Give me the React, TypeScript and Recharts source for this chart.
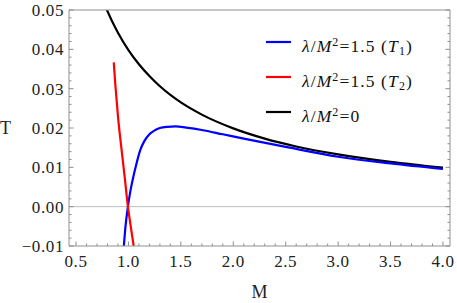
import React from "react";
import { LineChart, Line, XAxis, YAxis, ReferenceLine } from "recharts";

const FRAME = "#8f8f8f";
const ZERO = "#bdbdbd";
const FONT = '"Liberation Serif", "Times New Roman", serif';

// axes
const X_MAJOR = [0.5, 1.0, 1.5, 2.0, 2.5, 3.0, 3.5, 4.0];
const X_LABELS = ["0.5", "1.0", "1.5", "2.0", "2.5", "3.0", "3.5", "4.0"];
const Y_MAJOR = [-0.01, 0, 0.01, 0.02, 0.03, 0.04, 0.05];
const Y_LABELS = ["\u22120.01", "0.00", "0.01", "0.02", "0.03", "0.04", "0.05"];

// λ/M² = 0
const M_ZERO = [0.79, 0.85, 0.9, 1.0, 1.1, 1.2, 1.3, 1.4, 1.5, 1.7, 2.0, 2.3, 2.6, 3.0, 3.5, 4.0];
const T_ZERO = [0.0503, 0.0468, 0.0442, 0.0398, 0.0362, 0.0332, 0.0306, 0.0284, 0.0265, 0.0234, 0.0199, 0.0173, 0.0153, 0.0133, 0.0114, 0.0099];

// λ/M² = 1.5, T1
const M_T1 = [0.956, 0.97, 0.995, 1.02, 1.05, 1.08, 1.11, 1.15, 1.2, 1.25, 1.3, 1.37, 1.45, 1.55, 1.7, 1.9, 2.1, 2.5, 3.0, 3.5, 4.0];
const T_T1 = [-0.01, -0.0055, 0.0, 0.0042, 0.008, 0.0113, 0.0142, 0.0166, 0.0184, 0.0194, 0.02, 0.0203, 0.0204, 0.0201, 0.0195, 0.0184, 0.0173, 0.0152, 0.0127, 0.011, 0.0096];

// λ/M² = 1.5, T2
const M_T2 = [0.86, 0.875, 0.89, 0.9, 0.93, 0.964, 0.995, 1.02, 1.05];
const T_T2 = [0.0367, 0.031, 0.0262, 0.023, 0.0155, 0.0076, 0.0, -0.0047, -0.01];

const zip = (ms: number[], ts: number[]) => ms.map((M, i) => ({ M, T: ts[i] }));
const zeroData = zip(M_ZERO, T_ZERO);
const t1Data = zip(M_T1, T_T1);
const t2Data = zip(M_T2, T_T2);

// 4 minor ticks between majors
const withMinor = (majors: number[]) => {
  const out: number[] = [];
  for (let i = 0; i < majors.length - 1; i++) {
    for (let k = 0; k < 5; k++) out.push(majors[i] + ((majors[i + 1] - majors[i]) * k) / 5);
  }
  out.push(majors[majors.length - 1]);
  return out;
};
const X_TICKS = withMinor(X_MAJOR);
const Y_TICKS = withMinor(Y_MAJOR);

const X_DOMAIN: [number, number] = [0.433, 4.067];
const Y_DOMAIN: [number, number] = [-0.01, 0.05];

type Side = "bottom" | "top" | "left" | "right";

function makeTick(side: Side, majors: number[], labels: string[]) {
  return (props: any) => {
    const { x, y, payload } = props;
    const idx = majors.findIndex((m) => Math.abs(m - payload.value) < 1e-9);
    const len = idx >= 0 ? 4.5 : 2.5;
    let x2 = x;
    let y2 = y;
    if (side === "bottom") y2 = y - len;
    if (side === "top") y2 = y + len;
    if (side === "left") x2 = x + len;
    if (side === "right") x2 = x - len;
    return (
      <g>
        <line x1={x} y1={y} x2={x2} y2={y2} stroke={FRAME} strokeWidth={1} />
        {idx >= 0 && side === "bottom" && (
          <text x={x} y={y + 21} textAnchor="middle" fontFamily={FONT} fontSize={17} letterSpacing={0.6} fill="#222">
            {labels[idx]}
          </text>
        )}
        {idx >= 0 && side === "left" && (
          <text x={x - 5} y={y + 6} textAnchor="end" fontFamily={FONT} fontSize={17} letterSpacing={0.6} fill="#222">
            {labels[idx]}
          </text>
        )}
      </g>
    );
  };
}

const LEGEND = [
  { color: "#0000ff", sub: "1", val: "1.5" },
  { color: "#ff0000", sub: "2", val: "1.5" },
  { color: "#000000", sub: null, val: "0" },
];

function LegendBox() {
  return (
    <svg width={457} height={303} style={{ position: "absolute", left: 0, top: 0, pointerEvents: "none" }}>
      {LEGEND.map((e, i) => {
        const ly = 42 + 35 * i;
        return (
          <g key={i}>
            <line x1={266} x2={291} y1={ly} y2={ly} stroke={e.color} strokeWidth={2.2} />
            <text x={302} y={ly + 10} fontFamily={FONT} fontSize={17.5} letterSpacing={1.1} fill="#111">
              <tspan fontStyle="italic">λ</tspan>/<tspan fontStyle="italic">M</tspan>
              <tspan dy={-6} fontSize={12}>2</tspan>
              <tspan dy={6}>={e.val}</tspan>
              {e.sub && (
                <>
                  <tspan> (</tspan>
                  <tspan fontStyle="italic">T</tspan>
                  <tspan dy={3} fontSize={12}>{e.sub}</tspan>
                  <tspan dy={-3}>)</tspan>
                </>
              )}
            </text>
          </g>
        );
      })}
    </svg>
  );
}

export default function App() {
  return (
    <div style={{ position: "absolute", left: 0, top: 0, width: 457, height: 303, background: "#fff" }}>
      <LineChart width={457} height={303} margin={{ top: 0, right: 0, bottom: 0, left: 0 }}>
        <XAxis
          xAxisId="b"
          type="number"
          dataKey="M"
          domain={X_DOMAIN}
          allowDataOverflow
          ticks={X_TICKS}
          interval={0}
          height={57}
          tickSize={0}
          tickMargin={0}
          tickLine={false}
          axisLine={{ stroke: FRAME }}
          tick={makeTick("bottom", X_MAJOR, X_LABELS)}
          label={{ value: "M", position: "insideBottom", offset: 5, fontFamily: FONT, fontSize: 18, fill: "#222" }}
        />
        <XAxis
          xAxisId="t"
          orientation="top"
          type="number"
          domain={X_DOMAIN}
          allowDataOverflow
          ticks={X_TICKS}
          interval={0}
          height={10}
          tickSize={0}
          tickMargin={0}
          tickLine={false}
          axisLine={{ stroke: FRAME }}
          tick={makeTick("top", X_MAJOR, X_LABELS)}
        />
        <YAxis
          yAxisId="l"
          type="number"
          domain={Y_DOMAIN}
          allowDataOverflow
          ticks={Y_TICKS}
          interval={0}
          width={69}
          tickSize={0}
          tickMargin={0}
          tickLine={false}
          axisLine={{ stroke: FRAME }}
          tick={makeTick("left", Y_MAJOR, Y_LABELS)}
          label={{ value: "T", position: "insideLeft", offset: 0, fontFamily: FONT, fontSize: 18, fill: "#222" }}
        />
        <YAxis
          yAxisId="r"
          orientation="right"
          type="number"
          domain={Y_DOMAIN}
          allowDataOverflow
          ticks={Y_TICKS}
          interval={0}
          width={7}
          tickSize={0}
          tickMargin={0}
          tickLine={false}
          axisLine={{ stroke: FRAME }}
          tick={makeTick("right", Y_MAJOR, Y_LABELS)}
        />
        <ReferenceLine xAxisId="b" yAxisId="l" y={0} stroke={ZERO} strokeWidth={1} />
        <Line data={zeroData} xAxisId="b" yAxisId="l" dataKey="T" type="monotone" stroke="#000" strokeWidth={2.2} dot={false} isAnimationActive={false} />
        <Line data={t1Data} xAxisId="b" yAxisId="l" dataKey="T" type="monotone" stroke="#0000ff" strokeWidth={2.2} dot={false} isAnimationActive={false} />
        <Line data={t2Data} xAxisId="b" yAxisId="l" dataKey="T" type="monotone" stroke="#ff0000" strokeWidth={2.2} dot={false} isAnimationActive={false} />
      </LineChart>
      <LegendBox />
    </div>
  );
}
